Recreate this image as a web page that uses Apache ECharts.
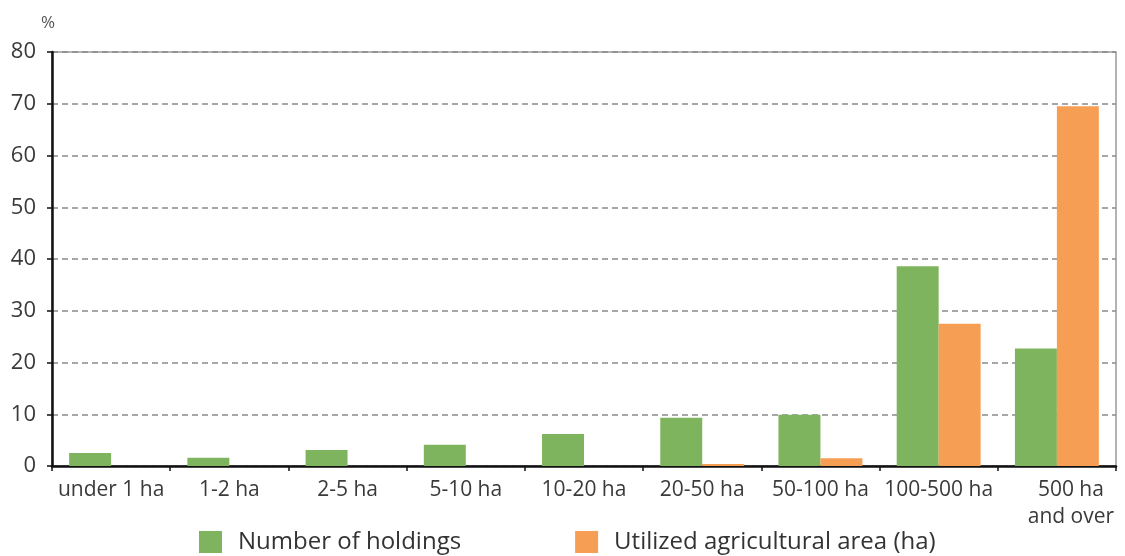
<!DOCTYPE html>
<html>
<head>
<meta charset="utf-8">
<script src="https://cdn.jsdelivr.net/npm/echarts@6/dist/echarts.min.js"></script>
<style>
  html, body { margin: 0; padding: 0; background: #fff; }
  #chart { width: 1125px; height: 556px; }
</style>
</head>
<body>
<div id="chart"></div>
<script>
// Farm size classes
var categories = ['under 1 ha', '1-2 ha', '2-5 ha', '5-10 ha', '10-20 ha', '20-50 ha', '50-100 ha', '100-500 ha', '500 ha\nand over'];
// Share of holdings, %
var holdings = [2.5, 1.6, 3.1, 4.1, 6.2, 9.3, 9.9, 38.6, 22.7];
// Share of utilized agricultural area, %
var area = [0, 0, 0, 0, 0, 0.4, 1.5, 27.5, 69.5];
var yTicks = [0, 10, 20, 30, 40, 50, 60, 70, 80];

var font = '"Open Sans", "Noto Sans", sans-serif';

// the last, two-line class label sits a little to the right
var categoryData = categories.map(function (c, i) {
  return i === categories.length - 1
    ? { value: c, textStyle: { padding: [0, 0, 0, 28] } }
    : c;
});

var chart = echarts.init(document.getElementById('chart'));
chart.setOption({
  animation: false,
  textStyle: { fontFamily: font },
  grid: {
    left: 52, right: 9, top: 52, bottom: 90,
    show: true, borderColor: '#9a9a9a', borderWidth: 1.5, backgroundColor: 'transparent'
  },
  graphic: [{
    type: 'text', left: 41, top: 15,
    style: { text: '%', fontSize: 17, fill: '#555', fontFamily: font }
  }],
  legend: {
    top: 525, left: 194,
    itemWidth: 23, itemHeight: 22, itemGap: 114,
    icon: 'rect',
    textStyle: { fontSize: 24, color: '#333', fontFamily: font, padding: [0, 0, 0, 11] },
    data: ['Number of holdings', 'Utilized agricultural area (ha)']
  },
  xAxis: {
    type: 'category',
    data: categoryData,
    axisLine: { lineStyle: { color: '#111', width: 2.5 } },
    axisTick: { show: true, length: 5, lineStyle: { color: '#111', width: 1.5 } },
    axisLabel: { fontSize: 21, color: '#3a3a3a', margin: 11, lineHeight: 27, interval: 0 }
  },
  yAxis: {
    type: 'value',
    min: yTicks[0], max: yTicks[yTicks.length - 1], interval: 10,
    axisLine: { show: true, lineStyle: { color: '#111', width: 2.5 } },
    axisTick: { show: true, length: 5, lineStyle: { color: '#111', width: 1.5 } },
    axisLabel: { fontSize: 22, color: '#3a3a3a', margin: 16 },
    splitLine: { lineStyle: { color: '#8a8a8a', type: [6, 4], width: 1.5 } }
  },
  series: [
    {
      name: 'Number of holdings', type: 'bar', data: holdings,
      barGap: '0%', barCategoryGap: '29%',
      itemStyle: { color: '#7fb45e' }
    },
    {
      name: 'Utilized agricultural area (ha)', type: 'bar', data: area,
      itemStyle: { color: '#f79e55' }
    }
  ]
});
</script>
</body>
</html>
